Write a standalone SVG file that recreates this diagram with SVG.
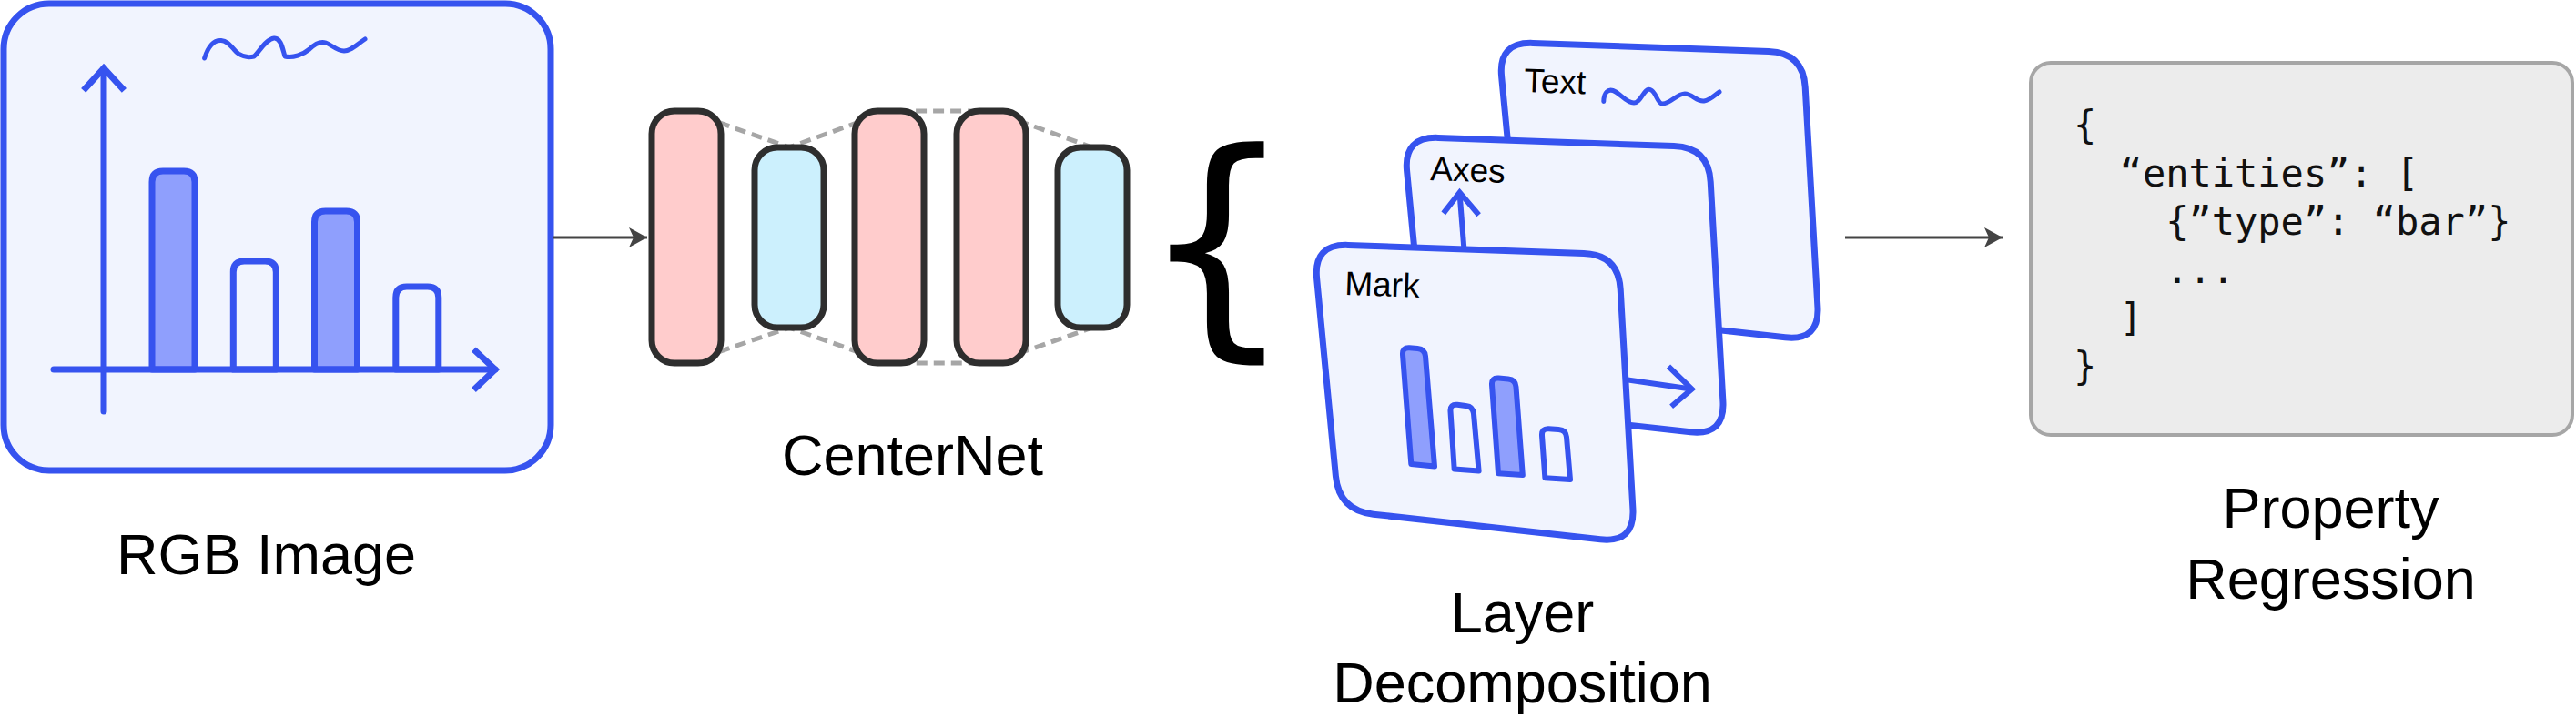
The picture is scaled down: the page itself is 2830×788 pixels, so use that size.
<svg xmlns="http://www.w3.org/2000/svg" width="2830" height="788" viewBox="0 0 2830 788">
<defs>
<style>
.panel{fill:#f1f4fe;stroke:#3653ef;stroke-width:7;stroke-linejoin:round}
.ln{fill:none;stroke:#3653ef;stroke-width:7;stroke-linecap:round}
.chev{fill:none;stroke:#3653ef;stroke-width:7;stroke-linecap:butt;stroke-linejoin:miter}
.squig{fill:none;stroke:#3653ef;stroke-width:5;stroke-linecap:round;stroke-linejoin:round}
.barf{fill:#8f9ffd;stroke:#3653ef;stroke-width:7;stroke-linejoin:round}
.bare{fill:#f1f4fe;stroke:#3653ef;stroke-width:7;stroke-linejoin:round}
.mbarf{fill:#8f9ffd;stroke:#3653ef;stroke-width:6;stroke-linejoin:round}
.mbare{fill:#f1f4fe;stroke:#3653ef;stroke-width:6;stroke-linejoin:round}
.mln{fill:none;stroke:#3653ef;stroke-width:6;stroke-linecap:butt;stroke-linejoin:miter}
.blk{stroke:#2e2e2e;stroke-width:7}
.pink{fill:#ffcccc}
.cyan{fill:#ccf0fd}
.dash{fill:none;stroke:#a6a6a6;stroke-width:5;stroke-dasharray:12 7}
.label{font-family:'Liberation Sans',Arial,sans-serif;font-size:63px;fill:#000;text-anchor:middle}
.small{font-family:'Liberation Sans',Arial,sans-serif;font-size:37px;fill:#000}
.mono{font-family:'DejaVu Sans Mono','Liberation Mono',monospace;font-size:42px;fill:#111}
.brace{font-family:'DejaVu Sans',sans-serif;font-size:267px;fill:#000}
.conn{stroke:#444;stroke-width:3;fill:none}
</style>
<marker id="arr" markerUnits="userSpaceOnUse" markerWidth="22" markerHeight="22" refX="20" refY="11" orient="auto" viewBox="0 0 22 22"><path d="M0,0 L20,11 L0,22 L5,11 Z" fill="#444"/></marker>
<path id="card" d="M38,1.4 L297,10.6 Q335,12 337.2,49.9 L350.9,291.1 Q353,329 315.2,324.8 L65.8,297.2 Q28,293 24.4,255.2 L3.6,37.8 Q0,0 38,1.4 Z"/>
</defs>
<rect width="2830" height="788" fill="#ffffff"/>

<g id="rgb-image">
<rect class="panel" x="4" y="4" width="601" height="513" rx="50"/>
<path class="squig" d="M224.6,64 C229,50 236,44 243,44.5 C252,45 255,54 262,59 C268,63 275,63 279,62 C284,58 292,43 301,42 C309,41 311,56 313,62 C322,64 333,60 340,54 C346,48 352,45 358,47 C364,49 370,56 378,56 C386,56 392,49 401,43"/>
<path class="barf" d="M167,406 V200 Q167,188 179,188 H202 Q214,188 214,200 V406 Z"/>
<path class="bare" d="M256.3,406 V299 Q256.3,287 268.3,287 H291.3 Q303.3,287 303.3,299 V406 Z"/>
<path class="barf" d="M345.5,406 V244 Q345.5,232 357.5,232 H380.5 Q392.5,232 392.5,244 V406 Z"/>
<path class="bare" d="M434.8,406 V327 Q434.8,315 446.8,315 H469.8 Q481.8,315 481.8,327 V406 Z"/>
<line class="ln" x1="114" y1="75" x2="114" y2="452"/>
<polyline class="chev" points="91.7,99.3 114,75 136.4,99.3"/>
<line class="ln" x1="59" y1="406" x2="544" y2="406"/>
<polyline class="chev" points="520.4,384 544,406 520.4,428.5"/>
<text class="label" x="292.6" y="631">RGB Image</text>
</g>

<g id="centernet">
<polyline class="dash" points="754,122 867,162 977,122 1089,122 1200,162"/>
<polyline class="dash" points="754,399 867,360 977,399 1089,399 1200,360"/>
<rect class="blk pink" x="716" y="122" width="76" height="277" rx="25"/>
<rect class="blk cyan" x="829" y="162" width="76" height="198" rx="25"/>
<rect class="blk pink" x="939" y="122" width="76" height="277" rx="25"/>
<rect class="blk pink" x="1051" y="122" width="76" height="277" rx="25"/>
<rect class="blk cyan" x="1162" y="162" width="76" height="198" rx="25"/>
<text class="label" x="1002.5" y="521.7">CenterNet</text>
</g>

<g id="brace">
<text class="brace" x="1252" y="358">{</text>
</g>

<g id="layer-decomposition">
<g id="layer-text">
<use href="#card" class="panel" transform="translate(1646,46)"/>
<text class="small" x="1674" y="101" transform="rotate(2 1674 101)">Text</text>
<path class="squig" d="M1761.8,111.5 C1762,101 1767,98 1772,99.5 C1780,102 1786,113 1795,113 C1803,113 1806,96 1813,98.5 C1820,101 1820,113 1826,114 C1834,115 1842,103 1851,103 C1859,103 1864,112 1872,111 C1879,110 1884,104 1889,101"/>
</g>
<g id="layer-axes">
<use href="#card" class="panel" transform="translate(1542,150)"/>
<text class="small" x="1571" y="198" transform="rotate(2 1571 198)">Axes</text>
<line class="mln" x1="1610.5" y1="300" x2="1603.6" y2="213"/>
<polyline class="mln" points="1585.8,234.3 1603.6,211.4 1624.6,236.2"/>
<line class="mln" x1="1760" y1="413.5" x2="1856" y2="427.2"/>
<polyline class="mln" points="1833,402.7 1858.7,427.6 1836.1,446.7"/>
</g>
<g id="layer-mark">
<use href="#card" class="panel" transform="translate(1443,268)"/>
<text class="small" x="1477" y="324" transform="rotate(2 1477 324)">Mark</text>
<path class="mbarf" d="M1550.3,509.9 L1541,389.7 Q1540.4,381.7 1548.4,382.3 L1557.3,383 Q1565.3,383.6 1566,391.6 L1576,512.5 Z"/>
<path class="mbare" d="M1597.7,515.6 L1593.5,452 Q1593,444 1601,444.8 L1610.3,445.9 Q1618.3,446.7 1619,454.7 L1624.6,517.5 Z"/>
<path class="mbarf" d="M1646,520.2 L1639,422.9 Q1638.4,414.9 1646.4,415.6 L1656.9,416.6 Q1664.9,417.3 1665.5,425.3 L1672.8,522.1 Z"/>
<path class="mbare" d="M1697.4,525.2 L1694,478.8 Q1693.4,470.8 1701.4,471.2 L1712.3,471.9 Q1720.3,472.3 1721,480.3 L1725,527.1 Z"/>
</g>
<text class="label" x="1672.5" y="695">Layer</text>
<text class="label" x="1672.5" y="772">Decomposition</text>
</g>

<g id="property-regression">
<rect x="2231" y="69" width="595" height="409" rx="22" fill="#ececec" stroke="#a6a6a6" stroke-width="4"/>
<text class="mono" x="2278" y="152">{</text>
<text class="mono" x="2328.6" y="205">“entities”: [</text>
<text class="mono" x="2379.2" y="258">{”type”: “bar”}</text>
<text class="mono" x="2379.2" y="311">...</text>
<text class="mono" x="2328.6" y="364">]</text>
<text class="mono" x="2278" y="417">}</text>
<text class="label" x="2560.5" y="580">Property</text>
<text class="label" x="2560.5" y="658">Regression</text>
</g>

<g id="connectors">
<line class="conn" x1="608" y1="261" x2="711" y2="261" marker-end="url(#arr)"/>
<line class="conn" x1="2027" y1="261" x2="2200" y2="261" marker-end="url(#arr)"/>
</g>
</svg>
